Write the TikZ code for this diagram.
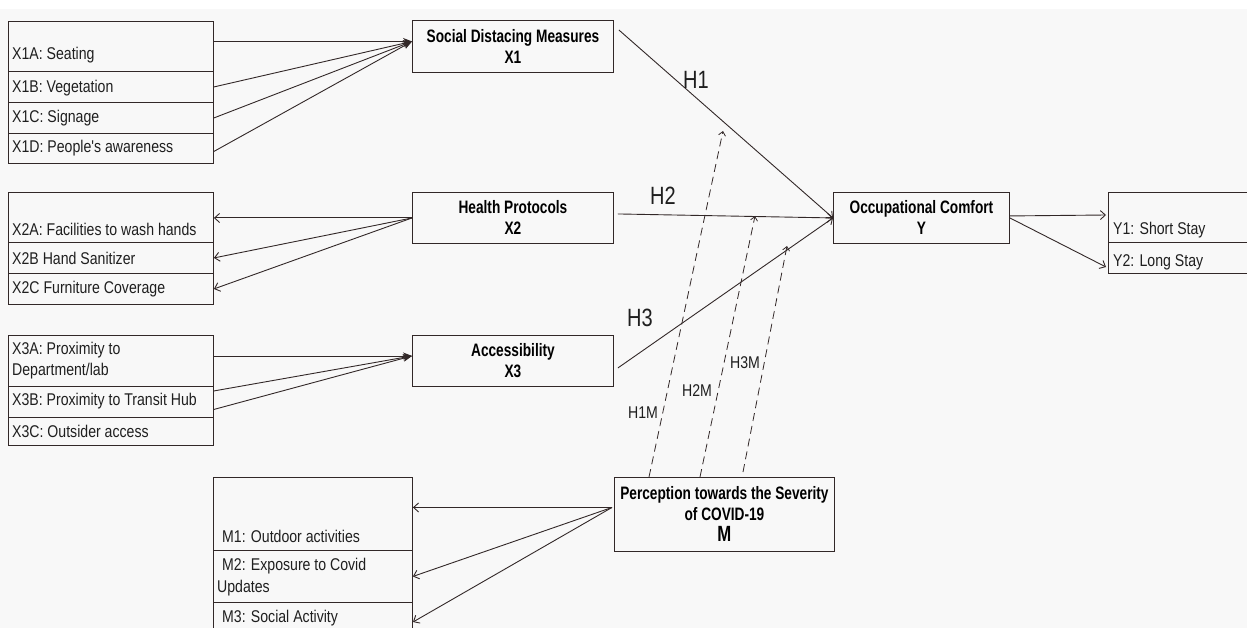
\documentclass[tikz,border=0pt]{standalone}
\usepackage{fontspec}
\setmainfont{Liberation Sans}
\newfontfamily\itemfont[FakeStretch=0.83]{Liberation Sans}
\newfontfamily\titlefont[FakeStretch=0.76]{Liberation Sans}
\newfontfamily\hfont[FakeStretch=0.8]{Liberation Sans}
\usetikzlibrary{arrows.meta}
\definecolor{lc}{RGB}{50,40,40}
\definecolor{bg}{RGB}{248,248,248}
\begin{document}
\begin{tikzpicture}[x=1pt,y=-1pt,
  ibox/.style={draw=lc, line width=0.9pt, anchor=north west, inner sep=0pt, minimum width=205pt},
  tbox/.style={draw=lc, line width=0.9pt, anchor=north west, inner sep=0pt, align=center,
    font=\titlefont\bfseries\fontsize{18}{21}\selectfont, text=black},
  item/.style={anchor=west, inner sep=0pt, font=\itemfont\fontsize{17}{19}\selectfont, text=black!88},
  hlab/.style={inner sep=0pt, font=\hfont\fontsize{25}{25}\selectfont, text=black!88},
  mlab/.style={inner sep=0pt, font=\itemfont\fontsize{17}{19}\selectfont, text=black!88},
  link/.style={draw=lc, line width=0.9pt},
  farrow/.style={link, -{Stealth[length=9pt,width=7pt]}},
  oarrow/.style={link, -{Straight Barb[length=5pt,width=9pt]}},
  darrow/.style={link, line width=0.8pt, dash pattern=on 8pt off 5pt, -{Straight Barb[length=4pt,width=7pt]}}
]
\useasboundingbox (0,0) rectangle (1247,628);
\fill[bg] (0,0) rectangle (1247,628);
\fill[white] (0,0) rectangle (1247,9);

% ---- X1 group
\node[ibox, minimum height=50pt] (x1a) at (8,21) {};
\node[ibox, minimum height=31pt] (x1b) at (8,71) {};
\node[ibox, minimum height=31pt] (x1c) at (8,102) {};
\node[ibox, minimum height=30pt] (x1d) at (8,133) {};
\node[item] (t1a) at (12,55) {X1A: Seating};
\node[item] (t1b) at (12,88) {X1B: Vegetation};
\node[item] (t1c) at (12,118) {X1C: Signage};
\node[item] (t1d) at (12,148) {X1D: People's awareness};

% ---- X2 group
\node[ibox, minimum height=50pt] (x2a) at (8,192) {};
\node[ibox, minimum height=31pt] (x2b) at (8,242) {};
\node[ibox, minimum height=31pt] (x2c) at (8,273) {};
\node[item] (t2a) at (12,229) {X2A: Facilities to wash hands};
\node[item] (t2b) at (12,258) {X2B Hand Sanitizer};
\node[item] (t2c) at (12,289) {X2C Furniture Coverage};

% ---- X3 group
\node[ibox, minimum height=51pt] (x3a) at (8,335) {};
\node[ibox, minimum height=31pt] (x3b) at (8,386) {};
\node[ibox, minimum height=28pt] (x3c) at (8,417) {};
\node[item] (t3a) at (12,350) {X3A: Proximity to};
\node[item] (t3a2) at (12,371) {Department/lab};
\node[item] (t3b) at (12,401) {X3B: Proximity to Transit Hub};
\node[item] (t3c) at (12,431) {X3C: Outsider access};

% ---- M group
\node[ibox, minimum width=199pt, minimum height=73pt] (m1) at (213,477) {};
\node[ibox, minimum width=199pt, minimum height=52pt] (m2) at (213,550) {};
\draw[draw=lc, line width=0.9pt] (213,628) -- (213,602) -- (412,602) -- (412,628);
\node[item] (tm1) at (222,536) {M1: Outdoor activities};
\node[item] (tm2) at (222,566) {M2: Exposure to Covid};
\node[item] (tm2b) at (217,588) {Updates};
\node[item] (tm3) at (222,618) {M3: Social Activity};

% ---- Y group
\draw[draw=lc, line width=0.9pt] (1247,192) -- (1108,192) -- (1108,273) -- (1247,273);
\draw[draw=lc, line width=0.9pt] (1108,242) -- (1247,242);
\node[item] (ty1) at (1113,230) {Y1: Short Stay};
\node[item] (ty2) at (1113,262) {Y2: Long Stay};
\coordinate (y1in) at (1106,215);
\coordinate (y2in) at (1106,267);

% ---- constructs
\node[tbox, minimum width=201pt, minimum height=52pt] (x1) at (412,20) {Social Distacing Measures\\X1};
\node[tbox, minimum width=201pt, minimum height=51pt] (x2) at (412,192) {Health Protocols\\X2};
\node[tbox, minimum width=201pt, minimum height=51pt] (x3) at (412,335) {Accessibility\\X3};
\node[tbox, minimum width=176pt, minimum height=51pt] (oc) at (833,192) {Occupational Comfort\\Y};
\node[tbox, minimum width=220pt, minimum height=74pt] (pm) at (614,477)
  {Perception towards the Severity\\of COVID-19\\{\fontsize{22}{22}\selectfont M}};

% ---- X1 arrows
\coordinate (x1in) at ([yshift=5pt]x1.west);
\draw[farrow] (x1a.east |- x1in) -- (x1in);
\draw[farrow] (x1b.east) -- (x1in);
\draw[farrow] (x1c.east) -- (x1in);
\draw[farrow] ([yshift=-3pt]x1d.east) -- (x1in);

% ---- X2 arrows
\draw[oarrow] (x2.west) -- (x2a.east |- x2.west);
\draw[oarrow] (x2.west) -- (x2b.east);
\draw[oarrow] (x2.west) -- (x2c.east);

% ---- X3 arrows
\coordinate (x3in) at ([yshift=5pt]x3.west);
\draw[farrow] (x3a.east |- x3in) -- (x3in);
\draw[farrow] ([yshift=11pt]x3b.east) -- (x3in);
\draw[farrow] ([yshift=-7.5pt]x3b.east) -- (x3in);

% ---- hypotheses
\draw[oarrow] ([xshift=5pt,yshift=-10pt]x1.north east) -- (oc.west);
\draw[oarrow] ([xshift=4pt,yshift=4pt]x2.east) -- (oc.west);
\draw[oarrow] ([xshift=4pt,yshift=-7pt]x3.east) -- (oc.west);
\node[hlab] (lh1) at (696,80) {H1};
\node[hlab] (lh2) at (663,196) {H2};
\node[hlab] (lh3) at (640,318) {H3};

% ---- Y arrows
\draw[oarrow] ([yshift=2pt]oc.east) -- (y1in);
\draw[oarrow] (oc.east) -- (y2in);

% ---- moderation
\coordinate (h1m) at (723,131);
\coordinate (h2m) at (755,216);
\coordinate (h3m) at (787,246);
\draw[darrow] ([xshift=35pt]pm.north west) -- (h1m);
\draw[darrow] ([xshift=86pt]pm.north west) -- (h2m);
\draw[darrow] ([xshift=129pt,yshift=5pt]pm.north west) -- (h3m);
\node[mlab] (lh1m) at (643,413) {H1M};
\node[mlab] (lh2m) at (697,391) {H2M};
\node[mlab] (lh3m) at (745,363) {H3M};

% ---- M arrows
\coordinate (pmout) at ([xshift=-2pt,yshift=7pt]pm.west);
\coordinate (m3in) at (413,622);
\draw[oarrow] (pmout) -- (m1.east |- pmout);
\draw[oarrow] (pmout) -- (m2.east);
\draw[oarrow] (pmout) -- (m3in);
\end{tikzpicture}
\end{document}
